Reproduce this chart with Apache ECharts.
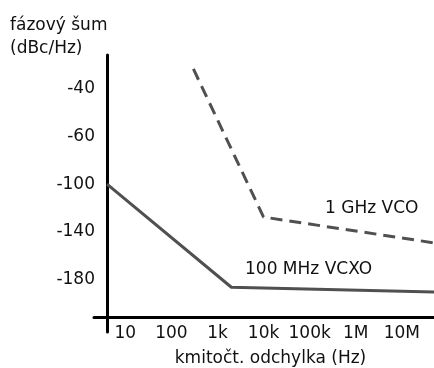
<!DOCTYPE html>
<html>
<head>
<meta charset="utf-8">
<script src="https://cdn.jsdelivr.net/npm/echarts@6/dist/echarts.min.js"></script>
<style>
  html, body { margin: 0; padding: 0; background: #fff; }
  #chart { width: 434px; height: 368px; }
</style>
</head>
<body>
<div id="chart"></div>
<script>
  // osa x - kmitočet (Hz), logaritmicky
  var xTickValues = [10, 100, 1e3, 1e4, 1e5, 1e6, 1e7];
  var xTickLabels = ['10', '100', '1k', '10k', '100k', '1M', '10M'];
  // osa y - popisky jdou po stejnych krocich, ale hodnoty ne
  var yTickValues = [-180, -140, -100, -60, -40];

  // 100 MHz VCXO
  var vcxoFreq = [4, 2000, 5e7];
  var vcxoNoise = [-100, -186, -190];
  // 1 GHz VCO
  var vcoFreq = [300, 1e4, 5e7];
  var vcoNoise = [-32, -127.5, -149];

  var FONT = 'DejaVu Sans';
  var LINE = '#505050';

  // dBc/Hz -> poloha na ose (po usecich mezi popisky)
  function level(db) {
    var t = yTickValues, n = t.length, i = 0;
    if (db <= t[0]) i = 0;
    else if (db >= t[n - 1]) i = n - 2;
    else { while (db > t[i + 1]) i++; }
    return i + (db - t[i]) / (t[i + 1] - t[i]);
  }

  function toData(freq, noise) {
    var out = [];
    for (var i = 0; i < freq.length; i++) {
      out.push([freq[i], level(noise[i])]);
    }
    return out;
  }

  function xLabel(v) {
    var lv = Math.log(v) / Math.LN10;
    for (var i = 0; i < xTickValues.length; i++) {
      if (Math.abs(Math.log(xTickValues[i]) / Math.LN10 - lv) < 0.01) return xTickLabels[i];
    }
    return '';
  }

  var yIdx = [];
  for (var k = 0; k < yTickValues.length; k++) yIdx.push(k);

  var myChart = echarts.init(document.getElementById('chart'));
  var option = {
    animation: false,
    title: {
      text: 'fázový šum\n(dBc/Hz)',
      left: 10,
      top: 14,
      padding: 0,
      textStyle: { fontFamily: FONT, fontSize: 17, fontWeight: 'normal', color: '#111', lineHeight: 23 }
    },
    grid: [
      { left: 107, right: 0, top: 55, bottom: 51, outerBoundsMode: 'none' },   // data
      { left: 94, right: 0, top: 55, bottom: 51, outerBoundsMode: 'none' },    // cara osy x
      { left: 107, right: 0, top: 55, bottom: 36, outerBoundsMode: 'none' }    // cara osy y
    ],
    xAxis: [
      {
        gridIndex: 0,
        type: 'log',
        logBase: 10,
        min: 4,
        max: 5e7,
        axisLine: { show: false },
        axisTick: { show: false },
        splitLine: { show: false },
        axisLabel: {
          showMinLabel: false,
          showMaxLabel: false,
          margin: 8,
          fontFamily: FONT,
          fontSize: 17,
          color: '#111',
          formatter: xLabel
        },
        name: 'kmitočt. odchylka (Hz)',
        nameLocation: 'middle',
        nameGap: 33,
        nameTextStyle: { fontFamily: FONT, fontSize: 17, color: '#111' }
      },
      {
        gridIndex: 1, type: 'value', min: 0, max: 1,
        axisLine: { show: true, lineStyle: { color: '#000', width: 3 } },
        axisTick: { show: false }, axisLabel: { show: false }, splitLine: { show: false }
      },
      { gridIndex: 2, type: 'value', min: 0, max: 1, show: false }
    ],
    yAxis: [
      {
        gridIndex: 0,
        type: 'value',
        min: -0.77,
        max: 4.69,
        axisLine: { show: false },
        axisTick: { show: false },
        splitLine: { show: false },
        axisLabel: {
          customValues: yIdx,
          margin: 12,
          fontFamily: FONT,
          fontSize: 17,
          color: '#111',
          formatter: function (v) {
            var s = yTickValues[Math.round(v)];
            return s === undefined ? '' : String(s);
          }
        }
      },
      { gridIndex: 1, type: 'value', min: 0, max: 1, show: false },
      {
        gridIndex: 2, type: 'value', min: 0, max: 1,
        axisLine: { show: true, onZero: false, lineStyle: { color: '#000', width: 3 } },
        axisTick: { show: false }, axisLabel: { show: false }, splitLine: { show: false }
      }
    ],
    series: [
      {
        name: '100 MHz VCXO',
        type: 'line',
        xAxisIndex: 0, yAxisIndex: 0,
        data: toData(vcxoFreq, vcxoNoise),
        showSymbol: false,
        lineStyle: { color: LINE, width: 3 }
      },
      {
        name: '1 GHz VCO',
        type: 'line',
        xAxisIndex: 0, yAxisIndex: 0,
        data: toData(vcoFreq, vcoNoise),
        showSymbol: false,
        lineStyle: { color: LINE, width: 3, type: [12, 7] }
      }
    ],
    graphic: [
      { type: 'text', left: 325, top: 200, style: { text: '1 GHz VCO', font: '17px "DejaVu Sans"', fill: '#111' } },
      { type: 'text', left: 245, top: 261, style: { text: '100 MHz VCXO', font: '17px "DejaVu Sans"', fill: '#111' } }
    ]
  };
  if (option && typeof option === "object") {
    myChart.setOption(option, true);
  }
</script>
</body>
</html>
